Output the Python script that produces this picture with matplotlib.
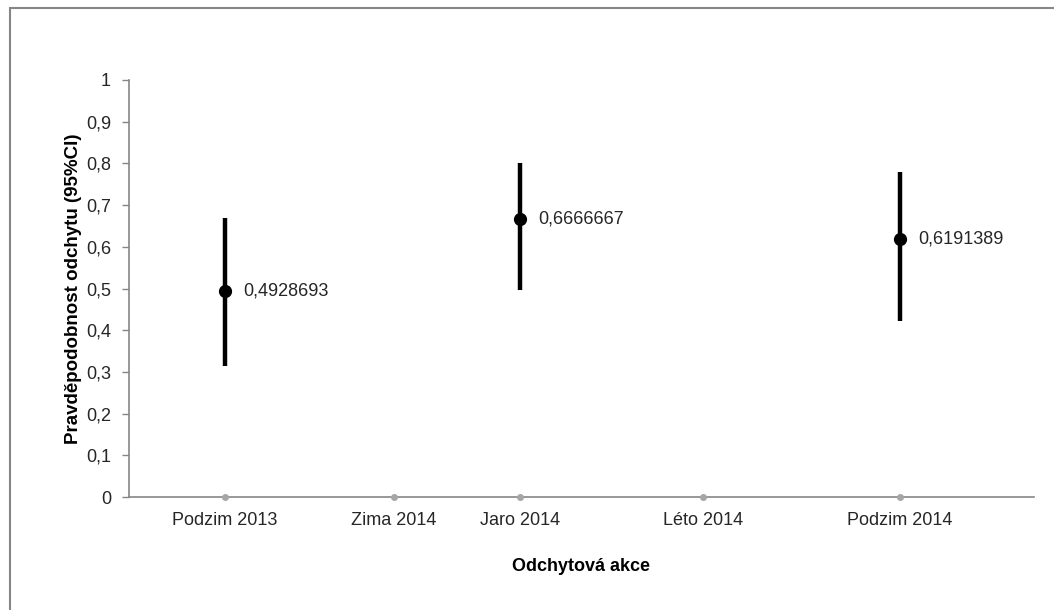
import matplotlib
matplotlib.use('Agg')
import matplotlib.pyplot as plt
from matplotlib.patches import Rectangle

plt.rcParams['font.family'] = ['Liberation Sans', 'DejaVu Sans']

# data
categories = ['Podzim 2013', 'Zima 2014', 'Jaro 2014', 'Léto 2014', 'Podzim 2014']
cat_x = [10.6, 29.3, 43.2, 63.4, 85.2]

est_x = [10.6, 43.2, 85.2]
estimates = [0.4928693, 0.6666667, 0.6191389]
ci_low = [0.314, 0.496, 0.422]
ci_high = [0.670, 0.800, 0.779]
est_labels = ['0,4928693', '0,6666667', '0,6191389']

y_ticks = [0, 0.1, 0.2, 0.3, 0.4, 0.5, 0.6, 0.7, 0.8, 0.9, 1.0]
y_tick_labels = ['0', '0,1', '0,2', '0,3', '0,4', '0,5', '0,6', '0,7', '0,8', '0,9', '1']

fs = 13

fig = plt.figure(figsize=(10.54, 6.10), dpi=100)
ax = fig.add_axes([129 / 1054, 1 - 497 / 610, 905 / 1054, 417 / 610])

axis_gray = '#868686'
text_col = '#262626'

# gray placeholder points on the x axis
ax.plot(cat_x, [0] * len(cat_x), 'o', color='#a6a6a6', markersize=4,
        clip_on=False, zorder=3)

# confidence intervals and estimates
for x, lo, hi in zip(est_x, ci_low, ci_high):
    ax.plot([x, x], [lo, hi], color='black', lw=3.2, solid_capstyle='butt')
ax.plot(est_x, estimates, 'o', color='black', markersize=8.5, zorder=4)
for x, v, lab in zip(est_x, estimates, est_labels):
    ax.annotate(lab, (x, v), xytext=(13, 0), textcoords='offset points',
                va='center', ha='left', fontsize=fs, color=text_col)

ax.set_xlim(0, 100)
ax.set_ylim(0, 1)
ax.set_yticks(y_ticks)
ax.set_yticklabels(y_tick_labels)
ax.set_xticks(cat_x)
ax.set_xticklabels(categories)

for s in ['top', 'right']:
    ax.spines[s].set_visible(False)
for s in ['left', 'bottom']:
    ax.spines[s].set_color(axis_gray)
    ax.spines[s].set_linewidth(1.2)

ax.tick_params(axis='y', length=5, width=1, color=axis_gray, pad=8,
               labelsize=fs, labelcolor=text_col)
ax.tick_params(axis='x', length=0, pad=11, labelsize=fs, labelcolor=text_col)

ax.set_xlabel('Odchytová akce', fontsize=fs, fontweight='bold', labelpad=21)
ax.set_ylabel('Pravděpodobnost odchytu (95%CI)', fontsize=13.5,
              fontweight='bold', labelpad=3)

# outer chart border
fig.patches.append(Rectangle((10 / 1054, -0.2), 1.2, 1.2 - 8 / 610,
                             transform=fig.transFigure, fill=False,
                             edgecolor=axis_gray, lw=1.5))

fig.savefig('out.png', dpi=100)
